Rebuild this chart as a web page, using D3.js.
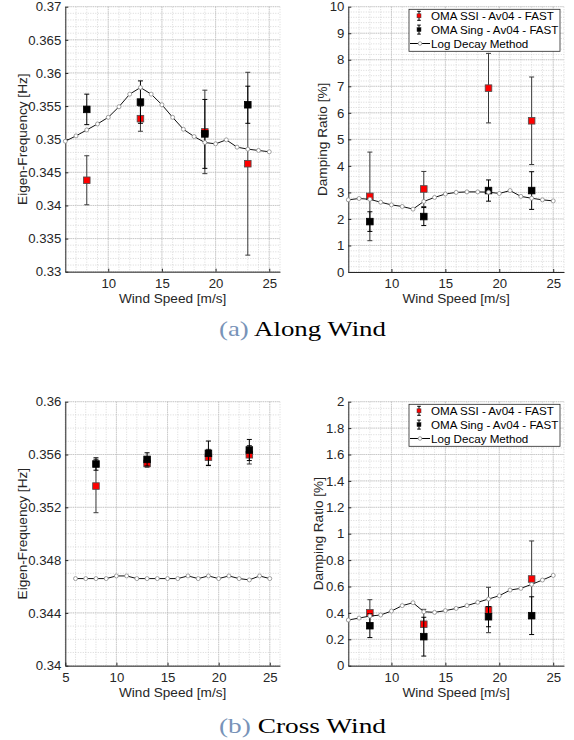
<!DOCTYPE html>
<html>
<head>
<meta charset="utf-8">
<script src="https://cdn.jsdelivr.net/npm/d3@7/dist/d3.min.js"></script>
<style>
  html, body { margin: 0; padding: 0; background: #fff; }
  svg { display: block; font-family: "Liberation Sans", Arial, Helvetica, sans-serif; }
</style>
</head>
<body>
<div id="chart"></div>
<script>
// === DATA ===
const windLog = [6, 7, 8, 9, 10, 11, 12, 13, 14, 15, 16, 17, 18, 19, 20, 21, 22, 23, 24, 25];
const windOma = [8, 13, 19, 23];

// (a) along wind - eigen-frequency
const alongFreqLog = [0.3497, 0.3505, 0.3514, 0.3523, 0.3533, 0.3549, 0.3568, 0.3578, 0.3568, 0.3552,
                      0.3533, 0.3515, 0.3504, 0.3495, 0.3493, 0.3499, 0.3488, 0.3485, 0.3483, 0.3481];
const alongFreqSsi = [0.3438, 0.3531, 0.3511, 0.3463];
const alongFreqSsiErr = [0.0037, 0.0019, 0.0063, 0.0138];
const alongFreqSing = [0.3545, 0.3556, 0.3508, 0.3552];
const alongFreqSingErr = [0.0023, 0.0032, 0.0052, 0.0028];

// (a) along wind - damping ratio
const alongDampLog = [2.72, 2.77, 2.74, 2.63, 2.53, 2.47, 2.37, 2.66, 2.81, 2.94,
                      3.00, 3.02, 3.02, 3.01, 2.96, 3.07, 2.85, 2.78, 2.72, 2.68];
const alongDampSsi = [2.85, 3.13, 6.93, 5.70];
const alongDampSsiErr = [1.67, 0.66, 1.31, 1.65];
const alongDampSing = [1.90, 2.09, 3.07, 3.07];
const alongDampSingErr = [0.37, 0.34, 0.40, 0.71];

// (b) cross wind - eigen-frequency
const crossFreqLog = [0.3466, 0.3466, 0.3466, 0.3466, 0.3468, 0.3468, 0.3466, 0.3466, 0.3466, 0.3466,
                      0.3466, 0.3468, 0.3466, 0.3468, 0.3466, 0.3468, 0.3466, 0.3465, 0.3468, 0.3466];
const crossFreqSsi = [0.35361, 0.35533, 0.35579, 0.35598];
const crossFreqSsiErr = [0.00202, 0.0003, 0.0006, 0.0007];
const crossFreqSing = [0.35528, 0.35563, 0.35609, 0.35634];
const crossFreqSingErr = [0.00047, 0.0005, 0.00093, 0.0008];

// (b) cross wind - damping ratio
const crossDampLog = [0.346, 0.361, 0.376, 0.384, 0.414, 0.455, 0.477, 0.409, 0.404, 0.417,
                      0.434, 0.455, 0.480, 0.505, 0.530, 0.573, 0.586, 0.616, 0.649, 0.684];
const crossDampSsi = [0.40, 0.314, 0.422, 0.657];
const crossDampSsiErr = [0.10, 0.113, 0.172, 0.288];
const crossDampSing = [0.303, 0.22, 0.371, 0.379];
const crossDampSingErr = [0.09, 0.147, 0.076, 0.143];

// tick labels
const windTicksA = [10, 15, 20, 25];
const windTicksB = [5, 10, 15, 20, 25];
const alongFreqTicks = [0.33, 0.335, 0.34, 0.345, 0.35, 0.355, 0.36, 0.365, 0.37];
const alongDampTicks = [0, 1, 2, 3, 4, 5, 6, 7, 8, 9, 10];
const crossFreqTicks = [0.34, 0.344, 0.348, 0.352, 0.356, 0.36];
const crossDampTicks = [0, 0.2, 0.4, 0.6, 0.8, 1, 1.2, 1.4, 1.6, 1.8, 2];

const legendLabels = ["OMA SSI - Av04 - FAST", "OMA Sing - Av04 - FAST", "Log Decay Method"];

// === LAYOUT ===
const W = 574, H = 740;
const svg = d3.select("#chart").append("svg")
  .attr("width", W).attr("height", H)
  .attr("viewBox", `0 0 ${W} ${H}`);
svg.append("rect").attr("width", W).attr("height", H).attr("fill", "#fff");

const axisColor = "#262626";
const fmt = d => String(+d.toFixed(4));

function drawPanel(cfg) {
  const x = d3.scaleLinear().domain(cfg.xDomain).range([cfg.left, cfg.right]);
  const y = d3.scaleLinear().domain(cfg.yDomain).range([cfg.bottom, cfg.top]);
  const g = svg.append("g");

  // minor grid
  const xMinor = d3.range(cfg.xDomain[0], cfg.xDomain[1] + 1e-9, 1);
  const nY = Math.round((cfg.yDomain[1] - cfg.yDomain[0]) / cfg.yMinor);
  const yMinor = d3.range(0, nY + 1).map(i => cfg.yDomain[0] + i * cfg.yMinor);

  g.append("g").selectAll("line").data(xMinor).join("line")
    .attr("x1", d => x(d)).attr("x2", d => x(d))
    .attr("y1", cfg.top).attr("y2", cfg.bottom)
    .attr("stroke", "#cfcfcf").attr("stroke-width", 0.8)
    .attr("stroke-dasharray", "1,1.5");
  g.append("g").selectAll("line").data(yMinor).join("line")
    .attr("x1", cfg.left).attr("x2", cfg.right)
    .attr("y1", d => y(d)).attr("y2", d => y(d))
    .attr("stroke", "#cfcfcf").attr("stroke-width", 0.8)
    .attr("stroke-dasharray", "1,1.5");
  // major grid
  g.append("g").selectAll("line").data(cfg.xTicks).join("line")
    .attr("x1", d => x(d)).attr("x2", d => x(d))
    .attr("y1", cfg.top).attr("y2", cfg.bottom)
    .attr("stroke", "#b4b4b4").attr("stroke-width", 0.8)
    .attr("stroke-dasharray", "1,1");
  g.append("g").selectAll("line").data(cfg.yTicks).join("line")
    .attr("x1", cfg.left).attr("x2", cfg.right)
    .attr("y1", d => y(d)).attr("y2", d => y(d))
    .attr("stroke", "#b4b4b4").attr("stroke-width", 0.8)
    .attr("stroke-dasharray", "1,1");

  // axes (ticks point inward, box off)
  const xAxis = g.append("g")
    .attr("transform", `translate(0,${cfg.bottom})`)
    .call(d3.axisBottom(x).tickValues(cfg.xTicks).tickSize(-3).tickSizeOuter(0).tickPadding(7).tickFormat(fmt));
  const yAxis = g.append("g")
    .attr("transform", `translate(${cfg.left},0)`)
    .call(d3.axisLeft(y).tickValues(cfg.yTicks).tickSize(-3).tickSizeOuter(0).tickPadding(4).tickFormat(fmt));
  [xAxis, yAxis].forEach(a => {
    a.select(".domain").attr("stroke", axisColor).attr("stroke-width", 1);
    a.selectAll(".tick line").attr("stroke", axisColor);
    a.selectAll("text").attr("fill", axisColor)
      .style("font-size", "13.2px")
      .style("font-family", "'Liberation Sans', Arial, sans-serif");
  });

  // axis titles
  g.append("text")
    .attr("x", (cfg.left + cfg.right) / 2)
    .attr("y", cfg.bottom + 31)
    .attr("text-anchor", "middle")
    .attr("fill", axisColor)
    .style("font-size", "13.6px")
    .text("Wind Speed [m/s]");
  g.append("text")
    .attr("transform", `translate(${cfg.ylabelX},${(cfg.top + cfg.bottom) / 2}) rotate(-90)`)
    .attr("text-anchor", "middle")
    .attr("dy", "0.35em")
    .attr("fill", axisColor)
    .style("font-size", "13.6px")
    .text(cfg.ylabel);

  // error bar series
  const series = [
    { vals: cfg.ssi, err: cfg.ssiErr, fill: "#ff0000", stroke: "#4d4d4d", bar: "#3a3a3a" },
    { vals: cfg.sing, err: cfg.singErr, fill: "#000000", stroke: "#000000", bar: "#000000" }
  ];
  series.forEach(s => {
    const rows = windOma.map((w, i) => ({ w, v: s.vals[i], e: s.err[i] }));
    const sg = g.append("g");
    sg.selectAll("line.bar").data(rows).join("line").attr("class", "bar")
      .attr("x1", d => x(d.w)).attr("x2", d => x(d.w))
      .attr("y1", d => y(d.v - d.e)).attr("y2", d => y(d.v + d.e))
      .attr("stroke", s.bar).attr("stroke-width", 1);
    sg.selectAll("line.capT").data(rows).join("line").attr("class", "capT")
      .attr("x1", d => x(d.w) - 2.5).attr("x2", d => x(d.w) + 2.5)
      .attr("y1", d => y(d.v + d.e)).attr("y2", d => y(d.v + d.e))
      .attr("stroke", s.bar).attr("stroke-width", 1);
    sg.selectAll("line.capB").data(rows).join("line").attr("class", "capB")
      .attr("x1", d => x(d.w) - 2.5).attr("x2", d => x(d.w) + 2.5)
      .attr("y1", d => y(d.v - d.e)).attr("y2", d => y(d.v - d.e))
      .attr("stroke", s.bar).attr("stroke-width", 1);
    sg.selectAll("rect").data(rows).join("rect")
      .attr("x", d => x(d.w) - 3.3).attr("y", d => y(d.v) - 3.3)
      .attr("width", 6.6).attr("height", 6.6)
      .attr("fill", s.fill).attr("stroke", s.stroke).attr("stroke-width", 0.8);
  });

  // log decay line
  const logRows = windLog.map((w, i) => ({ w, v: cfg.log[i] }));
  g.append("path").datum(logRows)
    .attr("fill", "none").attr("stroke", "#111").attr("stroke-width", 1)
    .attr("d", d3.line().x(d => x(d.w)).y(d => y(d.v)));
  g.append("g").selectAll("circle").data(logRows).join("circle")
    .attr("cx", d => x(d.w)).attr("cy", d => y(d.v)).attr("r", 2)
    .attr("fill", "#fff").attr("stroke", "#8a8a8a").attr("stroke-width", 0.8);

  if (cfg.legend) drawLegend(cfg.right - 4, cfg.top + 2.6);
}

function drawLegend(rightX, topY) {
  const w = 151, h = 42;
  const lg = svg.append("g").attr("transform", `translate(${rightX - w},${topY})`);
  lg.append("rect").attr("width", w).attr("height", h)
    .attr("fill", "#fff").attr("stroke", axisColor).attr("stroke-width", 0.8);
  const rowsY = [6.5, 20.3, 34.2];
  const fills = ["#ff0000", "#000000"];
  fills.forEach((f, i) => {
    const cy = rowsY[i], cx = 10;
    lg.append("line").attr("x1", cx).attr("x2", cx).attr("y1", cy - 4.5).attr("y2", cy + 4.5)
      .attr("stroke", "#000").attr("stroke-width", 1);
    lg.append("line").attr("x1", cx - 1.8).attr("x2", cx + 1.8).attr("y1", cy - 4.5).attr("y2", cy - 4.5)
      .attr("stroke", "#000").attr("stroke-width", 1);
    lg.append("line").attr("x1", cx - 1.8).attr("x2", cx + 1.8).attr("y1", cy + 4.5).attr("y2", cy + 4.5)
      .attr("stroke", "#000").attr("stroke-width", 1);
    lg.append("rect").attr("x", cx - 2).attr("y", cy - 2).attr("width", 4).attr("height", 4)
      .attr("fill", f).attr("stroke", "#333").attr("stroke-width", 0.5);
  });
  lg.append("line").attr("x1", 1).attr("x2", 21).attr("y1", rowsY[2]).attr("y2", rowsY[2])
    .attr("stroke", "#000").attr("stroke-width", 1);
  lg.append("circle").attr("cx", 11).attr("cy", rowsY[2]).attr("r", 1.8)
    .attr("fill", "#fff").attr("stroke", "#8a8a8a").attr("stroke-width", 0.8);
  lg.selectAll("text.lab").data(legendLabels).join("text").attr("class", "lab")
    .attr("x", 22).attr("y", (d, i) => rowsY[i]).attr("dy", "0.36em")
    .attr("fill", "#000").style("font-size", "11.6px")
    .text(d => d);
}

drawPanel({
  left: 65.3, right: 280, top: 6.7, bottom: 271.7,
  xDomain: [6, 26], xTicks: windTicksA,
  yDomain: [0.33, 0.37], yTicks: alongFreqTicks, yMinor: 0.001,
  ylabel: "Eigen-Frequency [Hz]", ylabelX: 22,
  log: alongFreqLog, ssi: alongFreqSsi, ssiErr: alongFreqSsiErr, sing: alongFreqSing, singErr: alongFreqSingErr,
  legend: false
});
drawPanel({
  left: 348.3, right: 564, top: 6.7, bottom: 272,
  xDomain: [6, 26], xTicks: windTicksA,
  yDomain: [0, 10], yTicks: alongDampTicks, yMinor: 0.2,
  ylabel: "Damping Ratio [%]", ylabelX: 322,
  log: alongDampLog, ssi: alongDampSsi, ssiErr: alongDampSsiErr, sing: alongDampSing, singErr: alongDampSingErr,
  legend: true
});
drawPanel({
  left: 65.3, right: 280, top: 401.7, bottom: 665.7,
  xDomain: [5, 26], xTicks: windTicksB,
  yDomain: [0.34, 0.36], yTicks: crossFreqTicks, yMinor: 0.001,
  ylabel: "Eigen-Frequency [Hz]", ylabelX: 22,
  log: crossFreqLog, ssi: crossFreqSsi, ssiErr: crossFreqSsiErr, sing: crossFreqSing, singErr: crossFreqSingErr,
  legend: false
});
drawPanel({
  left: 348.3, right: 564, top: 401.7, bottom: 665.7,
  xDomain: [6, 26], xTicks: windTicksA,
  yDomain: [0, 2], yTicks: crossDampTicks, yMinor: 0.05,
  ylabel: "Damping Ratio [%]", ylabelX: 318.5,
  log: crossDampLog, ssi: crossDampSsi, ssiErr: crossDampSsiErr, sing: crossDampSing, singErr: crossDampSingErr,
  legend: true
});

// captions
const captions = [
  { tag: "(a)", text: " Along Wind", y: 336 },
  { tag: "(b)", text: " Cross Wind", y: 733 }
];
captions.forEach(c => {
  const t = svg.append("text")
    .attr("x", 219).attr("y", c.y)
    .attr("textLength", 167).attr("lengthAdjust", "spacingAndGlyphs")
    .style("font-family", "'Liberation Serif', 'Times New Roman', serif")
    .style("font-size", "22px");
  t.append("tspan").attr("fill", "#7893b8").text(c.tag);
  t.append("tspan").attr("fill", "#000").text(c.text);
});
</script>
</body>
</html>
